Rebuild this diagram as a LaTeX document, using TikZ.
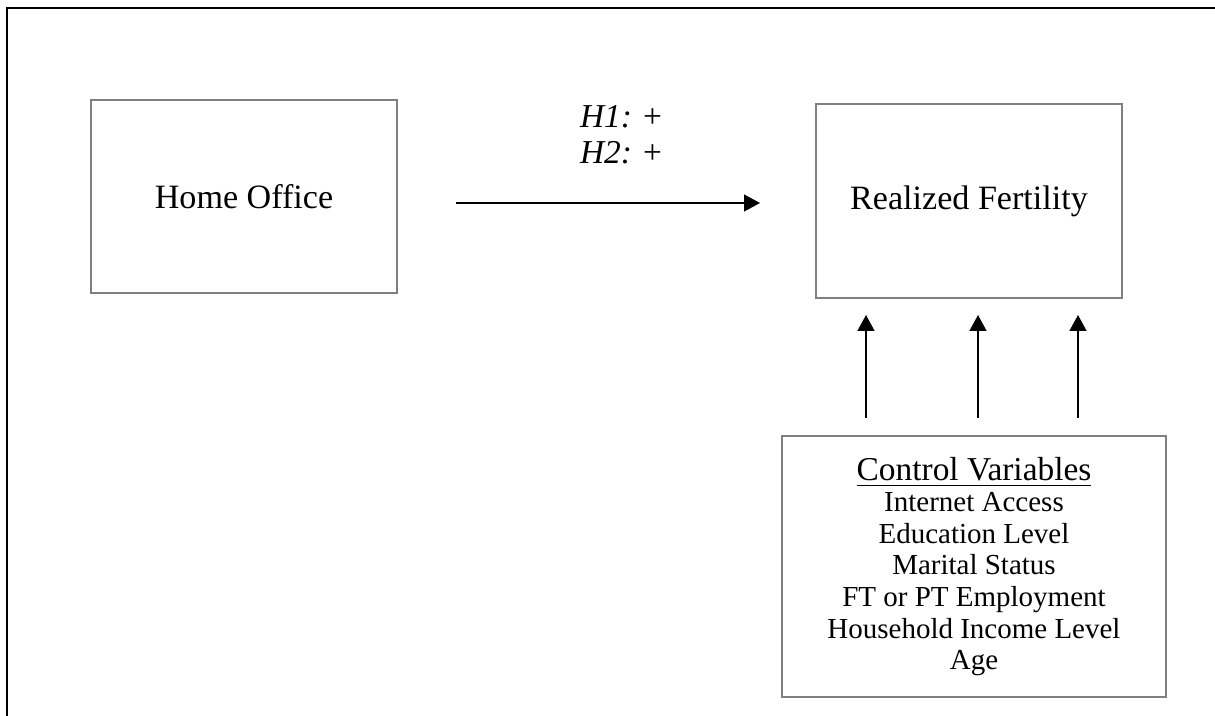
\documentclass[tikz,border=0pt]{standalone}
\usepackage{fontspec}
\setmainfont{Liberation Serif}
\usetikzlibrary{arrows.meta}

\tikzset{
  varbox/.style={draw=black!50,line width=0.4pt,minimum width=3.06cm,
    minimum height=1.93cm,inner sep=0pt,align=center},
  arr/.style={->,line width=0.4pt},
}

\begin{document}
\begin{tikzpicture}[x=1cm,y=1cm,>={Triangle[length=1.6mm,width=1.7mm]}]
    \useasboundingbox (0,0) rectangle (12.15,7.16);
    % frame: only its top and left edges are in the picture
    \draw[line width=0.6pt] (0.07,0) -- (0.07,7.08) -- (12.15,7.08);

    \node[varbox,font=\fontsize{9.7}{11}\selectfont] (home) at (2.44,5.195)
        {Home Office};
    \node[varbox,minimum height=1.94cm,font=\fontsize{9.7}{11}\selectfont]
        (fert) at (9.69,5.15) {Realized Fertility};
    \node[varbox,minimum width=3.84cm,minimum height=2.61cm,
        font=\fontsize{8.25}{9}\selectfont] (ctrl) at (9.74,1.495)
        {{\fontsize{9.5}{9.4}\selectfont\underline{Control Variables}}\\
         Internet Access\\Education Level\\Marital Status\\
         FT or PT Employment\\Household Income Level\\Age};

    \coordinate (homeout) at (4.56,5.13);
    \coordinate (fertin) at (7.60,5.13);
    \draw[arr] (homeout) -- (fertin);
    \node[align=center,font=\fontsize{9.5}{10.2}\selectfont] (hyp) at (6.21,5.81)
        {\textit{H1:} +\\\textit{H2:} +};

    % controls acting on fertility
    \foreach \x [count=\i] in {8.66,9.78,10.78}{
        \coordinate (cv\i) at (\x,2.98);
        \coordinate (rf\i) at (\x,4.01);
        \draw[arr] (cv\i) -- (rf\i);
    }
\end{tikzpicture}
\end{document}
